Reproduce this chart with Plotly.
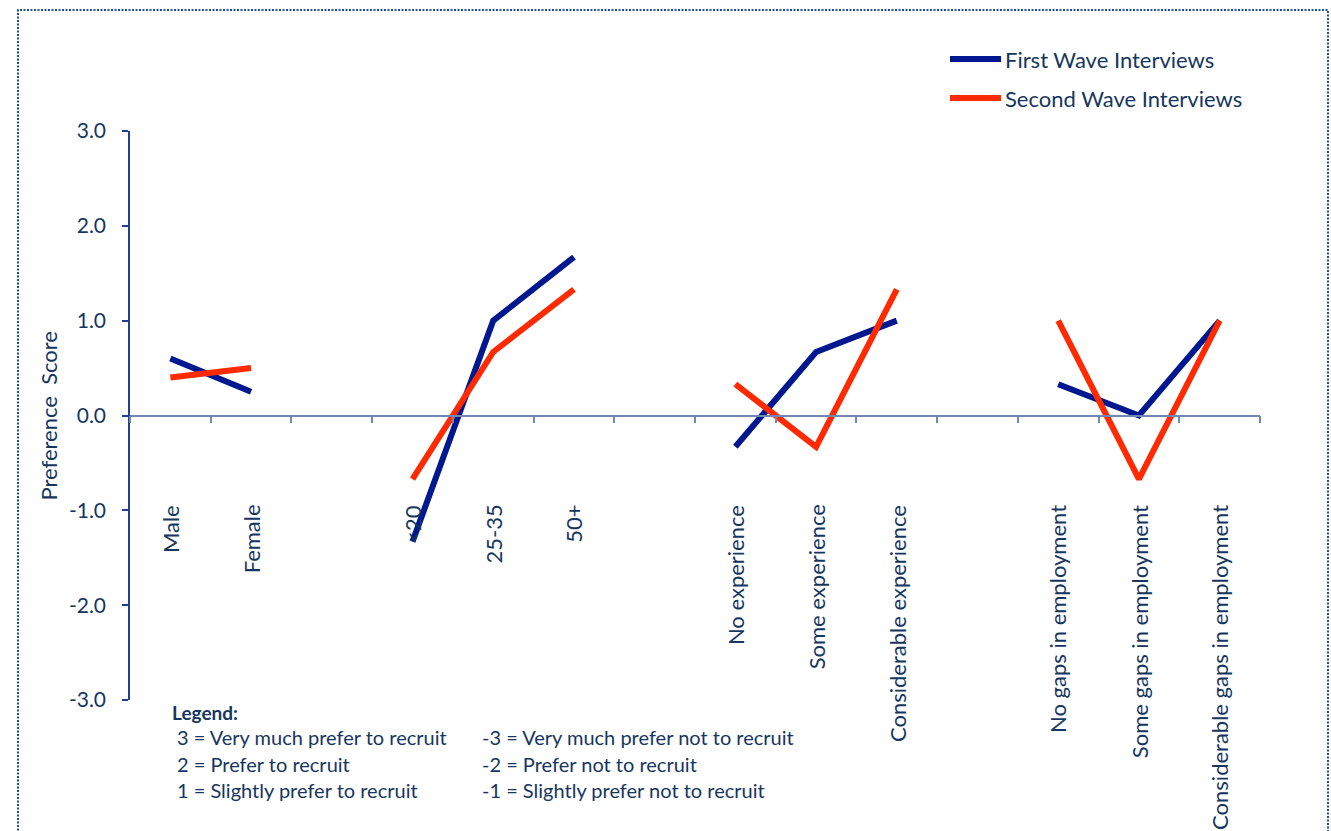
import plotly.graph_objects as go

# Category groups along the x axis (one empty slot between groups)
groups = [
    ["Male", "Female"],
    ["<20", "25-35", "50+"],
    ["No experience", "Some experience", "Considerable experience"],
    ["No gaps in employment", "Some gaps in employment", "Considerable gaps in employment"],
]

first_wave = [0.60, 0.25, -1.33, 1.00, 1.67, -0.33, 0.67, 1.00, 0.33, 0.00, 1.00]
second_wave = [0.40, 0.50, -0.67, 0.67, 1.33, 0.33, -0.33, 1.33, 1.00, -0.67, 1.00]

y_ticks = [-3, -2, -1, 0, 1, 2, 3]
y_tick_text = ["-3.0", "-2.0", "-1.0", "0.0", "1.0", "2.0", "3.0"]

series_names = ["First Wave Interviews", "Second Wave Interviews"]
series_colors = ["#00188F", "#FF2A00"]

key_lines_left = ["3 = Very much prefer to recruit", "2 = Prefer to recruit", "1 = Slightly prefer to recruit"]
key_lines_right = ["-3 = Very much prefer not to recruit", "-2 = Prefer not to recruit", "-1 = Slightly prefer not to recruit"]

TEXT = "#17365D"
FONT = "Lato, 'Open Sans', sans-serif"

# slot positions for every category, leaving a blank slot between groups
positions, labels, group_of = [], [], []
slot = 0
for gi, g in enumerate(groups):
    for name in g:
        positions.append(slot)
        labels.append(name)
        group_of.append(gi)
        slot += 1
    slot += 1
last_slot = positions[-1]


def broken_series(values):
    xs, ys = [], []
    for i, (p, v) in enumerate(zip(positions, values)):
        if i > 0 and group_of[i] != group_of[i - 1]:
            xs.append(None)
            ys.append(None)
        xs.append(p)
        ys.append(v)
    return xs, ys


fig = go.Figure()
for name, vals, col in zip(series_names, [first_wave, second_wave], series_colors):
    xs, ys = broken_series(vals)
    fig.add_trace(go.Scatter(x=xs, y=ys, mode="lines", name=name,
                             line=dict(color=col, width=6), showlegend=False))

annotations = []
# rotated category labels below the zero line
for p, lab in zip(positions, labels):
    annotations.append(dict(x=p, y=-0.92, xref="x", yref="y", text=lab, textangle=-90,
                            xanchor="center", yanchor="top", showarrow=False,
                            font=dict(family=FONT, size=22, color=TEXT)))

PW, PH = 1130, 569  # plot area size in px


def px_x(px):
    return (px - 130) / PW


def px_y(py):
    return (700 - py) / PH


shapes = []
# series key, top right
for i, (name, col) in enumerate(zip(series_names, series_colors)):
    yy = px_y(59 + 39 * i)
    shapes.append(dict(type="line", xref="paper", yref="paper", x0=px_x(950), x1=px_x(1001),
                       y0=yy, y1=yy, line=dict(color=col, width=6)))
    annotations.append(dict(x=px_x(1003), y=yy, xref="paper", yref="paper", text=name,
                            xanchor="left", yanchor="middle", showarrow=False,
                            font=dict(family=FONT, size=22, color=TEXT)))

# score key, bottom left
annotations.append(dict(x=px_x(170), y=px_y(712), xref="paper", yref="paper", text="<b>Legend:</b>",
                        xanchor="left", yanchor="middle", showarrow=False,
                        font=dict(family=FONT, size=19, color=TEXT)))
for i, (a, b) in enumerate(zip(key_lines_left, key_lines_right)):
    yy = px_y(737 + 26.5 * i)
    annotations.append(dict(x=px_x(175), y=yy, xref="paper", yref="paper", text=a,
                            xanchor="left", yanchor="middle", showarrow=False,
                            font=dict(family=FONT, size=20, color=TEXT)))
    annotations.append(dict(x=px_x(480), y=yy, xref="paper", yref="paper", text=b,
                            xanchor="left", yanchor="middle", showarrow=False,
                            font=dict(family=FONT, size=20, color=TEXT)))

# y-axis title
annotations.append(dict(x=px_x(48), y=0.5, xref="paper", yref="paper", text="Preference&nbsp;&nbsp;Score",
                        textangle=-90, xanchor="center", yanchor="middle", showarrow=False,
                        font=dict(family=FONT, size=22, color=TEXT)))

# dotted frame around the chart
shapes.append(dict(type="rect", xref="paper", yref="paper", x0=px_x(18), x1=px_x(1328),
                   y0=px_y(845), y1=px_y(10), line=dict(color="#1F4E9A", width=2, dash="2px,1.5px"),
                   layer="below"))

fig.update_layout(
    width=1331, height=831,
    margin=dict(l=130, r=71, t=131, b=131),
    paper_bgcolor="white", plot_bgcolor="white",
    font=dict(family=FONT, color=TEXT),
    showlegend=False,
    annotations=annotations,
    shapes=shapes,
    xaxis=dict(range=[-0.5, last_slot + 0.5], tickvals=[i - 0.5 for i in range(last_slot + 2)],
               showticklabels=False, ticks="outside", ticklen=7, tickcolor="#6F88B4",
               tickwidth=1.5, showline=True, linecolor="#6F88B4", linewidth=1.5,
               showgrid=False, zeroline=False, anchor="free", position=0.5),
    yaxis=dict(range=[-3, 3], tickvals=y_ticks, ticktext=y_tick_text,
               ticks="outside", ticklen=6, tickcolor="#1F3F8F", tickwidth=1.5,
               showline=True, linecolor="#1F3F8F", linewidth=1.5,
               showgrid=False, zeroline=False, ticklabelstandoff=12,
               tickfont=dict(family=FONT, size=21, color=TEXT)),
)

fig.write_html("out.html")
